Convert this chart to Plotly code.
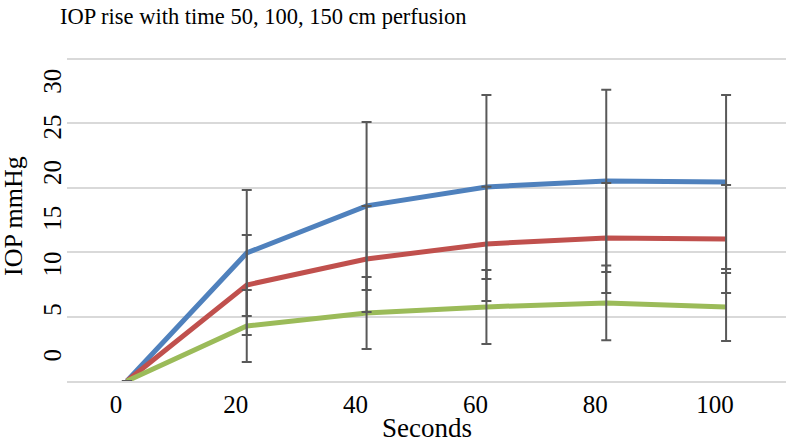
import plotly.graph_objects as go

# ---- data ----
seconds = [0, 20, 40, 60, 80, 100]
blue_vals = [0, 9.94, 13.59, 15.06, 15.53, 15.45]
blue_err = [0, 4.89, 6.52, 7.14, 7.07, 6.75]
red_vals = [0, 7.45, 9.47, 10.64, 11.10, 11.02]
red_err = [0, 3.88, 4.11, 4.43, 4.27, 4.19]
green_vals = [0, 4.27, 5.28, 5.75, 6.06, 5.75]
green_err = [0, 2.80, 2.80, 2.87, 2.90, 2.64]
y_tick_labels = [0, 5, 10, 15, 20, 25, 30]

title_text = "IOP rise with time 50, 100, 150 cm perfusion"
x_title = "Seconds"
y_title = "IOP mmHg"

FONT = "Liberation Serif, Times New Roman, serif"
series = [
    ("50 cm", blue_vals, blue_err, "#4F81BD"),
    ("100 cm", red_vals, red_err, "#C0504D"),
    ("150 cm", green_vals, green_err, "#9BBB59"),
]

fig = go.Figure()
for name, vals, err, col in series:
    fig.add_trace(go.Scatter(
        x=seconds, y=vals, mode="lines", name=name,
        line=dict(color=col, width=5), showlegend=False, hoverinfo="skip"))
for name, vals, err, col in series:
    fig.add_trace(go.Scatter(
        x=seconds, y=vals, mode="markers", name=name + " err",
        marker=dict(size=1, color="rgba(0,0,0,0)"),
        error_y=dict(type="data", array=err, visible=True,
                     color="#595959", thickness=2, width=5),
        showlegend=False, hoverinfo="skip"))

# invisible trace on the label axis
fig.add_trace(go.Scatter(x=[None], y=[None], yaxis="y2", showlegend=False))

fig.update_layout(
    width=786, height=446,
    margin=dict(l=67, r=0, t=55, b=65),
    paper_bgcolor="white", plot_bgcolor="white",
    font=dict(family=FONT, color="#000000"),
    title=dict(text=title_text, x=60 / 786, xanchor="left", xref="container",
               y=1 - 16 / 446, yanchor="middle", yref="container",
               font=dict(family=FONT, size=22.5, color="#000000")),
    xaxis=dict(range=[-10, 110], tickvals=seconds, ticktext=[str(s) for s in seconds],
               showgrid=False, zeroline=False, showline=True, linecolor="#D9D9D9",
               linewidth=1.5, ticks="", tickfont=dict(family=FONT, size=25, color="#000"),
               ticklabelshift=-11),
    yaxis=dict(range=[0, 25.3], dtick=5, showgrid=True, gridcolor="#D9D9D9", gridwidth=1.5,
               zeroline=False, showticklabels=False, ticks=""),
    yaxis2=dict(overlaying="y", side="left", range=[-2.41, 33.28],
                tickvals=y_tick_labels, ticktext=[str(v) for v in y_tick_labels],
                tickangle=-90, showgrid=False, zeroline=False, showline=False, ticks="",
                tickfont=dict(family=FONT, size=25, color="#000")),
    annotations=[
        dict(text=x_title, xref="paper", yref="paper", x=(427 - 67) / 719, y=(381 - 445) / 326,
             xanchor="center", yanchor="bottom", showarrow=False,
             font=dict(family=FONT, size=27, color="#000")),
        dict(text=y_title, xref="paper", yref="paper", x=(13 - 67) / 719, y=(381 - 216) / 326,
             xanchor="center", yanchor="middle", showarrow=False, textangle=-90,
             font=dict(family=FONT, size=26, color="#000")),
    ],
)

fig.write_html("out.html", config={"displayModeBar": False},
               post_script="document.body.style.margin='0';document.body.style.overflow='hidden';")
